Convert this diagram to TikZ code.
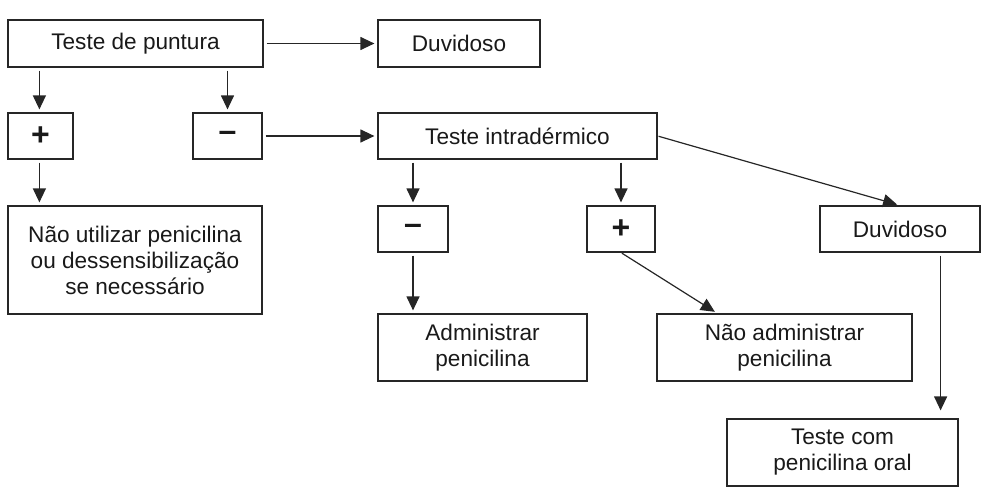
\documentclass[tikz,border=0pt]{standalone}
\usepackage{fontspec}
\setmainfont{Liberation Sans}
\usetikzlibrary{arrows.meta,calc}
\begin{document}
\begin{tikzpicture}[x=1pt,y=-1pt,
  box/.style={draw=black!85,line width=1.2pt,inner sep=0pt,align=center,
    font=\fontsize{22.6}{26}\selectfont,text=black!90},
  sign/.style={box,font=\fontsize{32}{32}\selectfont\bfseries},
  arr/.style={draw=black!85,line width=1.2pt,-{Triangle[length=14pt,width=13pt]},
    shorten >=3pt,shorten <=3pt}]
\useasboundingbox (0,0) rectangle (992,490);
% row 1
\node[box,minimum width=255pt,minimum height=47pt] (tp) at (135.5,43.5) {Teste de puntura};
\node[box,minimum width=162pt,minimum height=47pt] (d1) at (459,43.5) {Duvidoso};
% row 2
\node[sign,minimum width=65pt,minimum height=46pt] (p1) at (40.5,136) {+};
\node[sign,minimum width=69pt,minimum height=46pt] (m1) at (227.5,136) {–};
\node[box,minimum width=279pt,minimum height=46pt] (ti) at (517.5,136) {Teste intradérmico};
% row 3
\node[box,minimum width=254pt,minimum height=108pt] (nao) at (135,260) {Não utilizar penicilina\\ou dessensibilização\\se necessário};
\node[sign,minimum width=70pt,minimum height=46pt] (m2) at (413,229) {–};
\node[sign,minimum width=68pt,minimum height=46pt] (p2) at (621,229) {+};
\node[box,minimum width=160pt,minimum height=46pt] (d2) at (900,229) {Duvidoso};
% row 4
\node[box,minimum width=209pt,minimum height=67pt] (adm) at (482.5,347.5) {Administrar\\penicilina};
\node[box,minimum width=255pt,minimum height=67pt] (nadm) at (784.5,347.5) {Não administrar\\penicilina};
% row 5
\node[box,minimum width=231pt,minimum height=67pt] (tc) at (842.5,452.5) {Teste com\\penicilina oral};
% connectors
\coordinate (tpL) at ($(tp.south west)+(32,0)$);
\coordinate (tpR) at (tp.south -| m1);
\draw[arr] (tp.east) -- (d1.west);
\draw[arr] (tpL) -- (tpL |- p1.north);
\draw[arr] (tpR) -- (m1.north);
\draw[arr] (m1.east) -- (ti.west);
\draw[arr] (p1.south -| tpL) -- (tpL |- nao.north);
\draw[arr] (ti.south -| m2) -- (m2.north);
\draw[arr] (ti.south -| p2) -- (p2.north);
\draw[arr,shorten <=1pt] (ti.east) -- (d2.north);
\draw[arr] (m2.south) -- (adm.north -| m2);
\coordinate (nadmT) at ($(nadm.north west)+(61,0)$);
\draw[arr,shorten <=1pt] (p2.south) -- (nadmT);
\coordinate (d2B) at ($(d2.south east)+(-40,0)$);
\draw[arr,shorten >=8pt] (d2B) -- (d2B |- tc.north);
\end{tikzpicture}
\end{document}
